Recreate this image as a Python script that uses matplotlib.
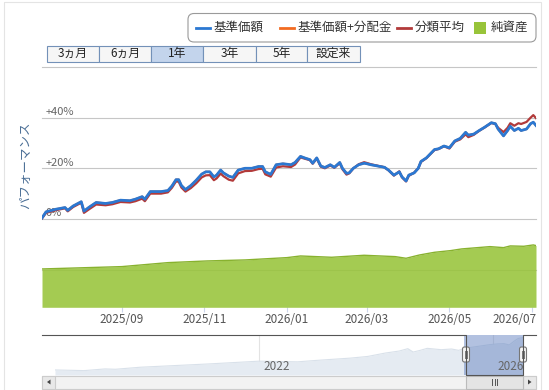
import matplotlib
matplotlib.use('Agg')
import matplotlib.pyplot as plt
import matplotlib.dates as mdates
import matplotlib.transforms as mtransforms
from matplotlib.patches import FancyBboxPatch, Rectangle, Polygon
import pandas as pd

plt.rcParams['font.family'] = ['Noto Sans CJK JP', 'DejaVu Sans']

# ---------------- data ----------------
perf_dates = [
    '2025-07-04', '2025-07-07', '2025-07-14', '2025-07-21', '2025-07-23', '2025-07-27',
    '2025-08-02', '2025-08-04', '2025-08-08', '2025-08-13', '2025-08-20', '2025-08-25',
    '2025-08-31', '2025-09-07', '2025-09-11', '2025-09-16', '2025-09-18', '2025-09-22',
    '2025-09-30', '2025-10-05', '2025-10-08', '2025-10-11', '2025-10-13', '2025-10-15',
    '2025-10-18', '2025-10-22', '2025-10-26', '2025-10-30', '2025-11-02', '2025-11-05',
    '2025-11-08', '2025-11-10', '2025-11-13', '2025-11-15', '2025-11-19', '2025-11-22',
    '2025-11-26', '2025-12-01', '2025-12-06', '2025-12-11', '2025-12-14', '2025-12-16',
    '2025-12-20', '2025-12-24', '2025-12-29', '2026-01-04', '2026-01-07', '2026-01-11',
    '2026-01-14', '2026-01-18', '2026-01-20', '2026-01-23', '2026-01-26', '2026-01-29',
    '2026-02-02', '2026-02-05', '2026-02-09', '2026-02-11', '2026-02-14', '2026-02-16',
    '2026-02-19', '2026-02-23', '2026-02-27', '2026-03-01', '2026-03-04', '2026-03-09',
    '2026-03-14', '2026-03-17', '2026-03-21', '2026-03-25', '2026-03-27', '2026-03-30',
    '2026-04-01', '2026-04-05', '2026-04-08', '2026-04-10', '2026-04-14', '2026-04-20',
    '2026-04-23', '2026-04-27', '2026-05-01', '2026-05-05', '2026-05-09', '2026-05-13',
    '2026-05-15', '2026-05-19', '2026-05-23', '2026-05-27', '2026-06-01', '2026-06-04',
    '2026-06-06', '2026-06-10', '2026-06-13', '2026-06-15', '2026-06-18', '2026-06-21',
    '2026-06-23', '2026-06-27', '2026-06-30', '2026-07-02', '2026-07-04',
]

nav_perf = [  # 基準価額 (%)
    0.4, 2.8, 3.8, 4.5, 3.4, 5.1,
    6.8, 3.1, 4.7, 6.5, 6.1, 6.5,
    7.4, 7.2, 7.8, 8.8, 7.8, 10.8,
    10.8, 11.2, 13.0, 15.5, 15.5, 13.2,
    11.6, 13.2, 15.3, 17.7, 18.6, 18.6,
    16.6, 17.3, 19.3, 18.2, 16.9, 16.4,
    19.3, 20.0, 20.0, 20.7, 20.7, 18.6,
    17.6, 21.4, 21.8, 21.4, 22.3, 24.7,
    24.1, 23.4, 22.0, 24.1, 20.9, 20.3,
    21.4, 20.4, 22.3, 20.0, 18.0, 18.2,
    20.0, 21.4, 22.0, 21.8, 21.4, 20.9,
    20.4, 19.3, 17.3, 18.6, 16.6, 15.0,
    17.3, 18.2, 20.0, 22.7, 24.1, 27.4,
    27.7, 28.8, 28.1, 30.8, 31.8, 34.2,
    33.1, 33.5, 34.9, 36.2, 38.0, 37.6,
    35.5, 32.8, 34.9, 36.6, 34.9, 35.8,
    34.9, 35.5, 37.6, 38.2, 36.9,
]

nav_dist_perf = [  # 基準価額+分配金 (%) – no distributions, same as 基準価額
    0.4, 2.8, 3.8, 4.5, 3.4, 5.1,
    6.8, 3.1, 4.7, 6.5, 6.1, 6.5,
    7.4, 7.2, 7.8, 8.8, 7.8, 10.8,
    10.8, 11.2, 13.0, 15.5, 15.5, 13.2,
    11.6, 13.2, 15.3, 17.7, 18.6, 18.6,
    16.6, 17.3, 19.3, 18.2, 16.9, 16.4,
    19.3, 20.0, 20.0, 20.7, 20.7, 18.6,
    17.6, 21.4, 21.8, 21.4, 22.3, 24.7,
    24.1, 23.4, 22.0, 24.1, 20.9, 20.3,
    21.4, 20.4, 22.3, 20.0, 18.0, 18.2,
    20.0, 21.4, 22.0, 21.8, 21.4, 20.9,
    20.4, 19.3, 17.3, 18.6, 16.6, 15.0,
    17.3, 18.2, 20.0, 22.7, 24.1, 27.4,
    27.7, 28.8, 28.1, 30.8, 31.8, 34.2,
    33.1, 33.5, 34.9, 36.2, 38.0, 37.6,
    35.5, 32.8, 34.9, 36.6, 34.9, 35.8,
    34.9, 35.5, 37.6, 38.2, 36.9,
]

category_avg = [  # 分類平均 (%)
    0.2, 2.4, 3.4, 4.2, 3.0, 4.7,
    6.4, 2.4, 3.9, 5.7, 5.4, 5.8,
    6.7, 6.5, 7.0, 8.0, 7.0, 10.0,
    10.0, 10.5, 12.3, 14.8, 14.7, 12.4,
    10.8, 12.2, 14.1, 16.4, 17.2, 17.3,
    15.3, 16.0, 17.9, 16.9, 15.5, 15.1,
    18.0, 18.9, 19.0, 19.7, 19.8, 17.6,
    16.7, 20.3, 20.8, 20.5, 21.5, 24.3,
    23.8, 23.2, 21.8, 23.8, 20.6, 20.0,
    21.1, 20.2, 22.0, 19.6, 17.5, 18.0,
    19.9, 21.6, 22.4, 22.1, 21.6, 21.0,
    20.4, 19.2, 17.1, 18.8, 16.4, 14.8,
    17.0, 18.3, 20.0, 22.5, 24.0, 27.2,
    27.6, 28.7, 27.8, 30.5, 31.4, 33.4,
    32.3, 33.2, 34.8, 36.1, 37.9, 37.5,
    36.0, 34.3, 36.0, 37.8, 36.8, 37.8,
    37.5, 38.3, 40.0, 41.0, 39.8,
]

asset_dates = [
    '2025-07-04', '2025-09-01', '2025-10-05', '2025-11-03', '2025-12-01', '2026-01-01',
    '2026-01-11', '2026-02-03', '2026-02-27', '2026-03-22', '2026-03-30', '2026-04-09',
    '2026-04-20', '2026-05-02', '2026-05-10', '2026-05-31', '2026-06-10', '2026-06-15',
    '2026-06-25', '2026-07-02', '2026-07-04',
]
net_assets = [  # 純資産 (億円)
    99.4, 105.5, 115.8, 120.2, 122.8, 128.8,
    133.1, 129.7, 134.9, 131.4, 127.1, 135.7,
    142.6, 147.0, 151.3, 157.3, 154.7, 159.1,
    158.2, 161.7, 160.0,
]

navigator_dates = [
    '2018-07-08', '2019-01-05', '2019-05-16', '2019-07-20', '2019-12-21', '2020-07-26',
    '2021-03-01', '2022-01-01', '2022-08-29', '2022-12-16', '2023-07-23', '2023-11-09',
    '2024-02-26', '2024-05-23', '2024-07-16', '2024-08-18', '2024-10-01', '2024-11-14',
    '2025-02-09', '2025-04-15', '2025-05-29', '2025-07-04', '2025-09-14', '2025-12-10',
    '2026-01-23', '2026-03-07', '2026-04-09', '2026-05-12', '2026-06-03', '2026-07-04',
]
navigator_values = [  # 基準価額 (円)
    10000, 8667, 12000, 11333, 15333, 18667,
    22000, 27333, 26000, 28667, 33333, 36667,
    43333, 47333, 52000, 45333, 48667, 52667,
    50000, 51333, 48667, 52667, 56000, 60000,
    61333, 62000, 59333, 67333, 72000, 74000,
]

range_buttons = ['3ヵ月', '6ヵ月', '1年', '3年', '5年', '設定来']
selected_button = '1年'
x_tick_dates = ['2025-09-01', '2025-11-01', '2026-01-01', '2026-03-01', '2026-05-01', '2026-07-01']
y_ticks = [0, 20, 40]
y_tick_labels = ['0%', '+20%', '+40%']
nav_years = ['2022-01-01', '2026-01-01']
nav_year_labels = ['2022', '2026']
legend_labels = ['基準価額', '基準価額+分配金', '分類平均', '純資産']

# ---------------- styles ----------------
BLUE = '#2b78d2'
ORANGE = '#f26b21'
RED = '#b23a3a'
GREEN = '#98c43a'
GREEN_EDGE = '#88b22f'

W, H = 549, 390
fig = plt.figure(figsize=(W / 100, H / 100), dpi=100)


def rect(l, t, r, b):
    return [l / W, 1 - b / H, (r - l) / W, (b - t) / H]


pd_dates = pd.to_datetime(perf_dates)
start, end = pd.Timestamp('2025-07-04'), pd.Timestamp('2026-07-04')

# ---- main performance axes ----
ax = fig.add_axes(rect(42, 67, 536, 307.3))
ax.set_xlim(start, end)
ax.set_ylim(-34.9, 60)
for s in ax.spines.values():
    s.set_visible(False)
for v in [-20, 0, 20, 40, 60]:
    ax.axhline(v, color='#c6c6c6', lw=0.8, zorder=0, clip_on=False)

ax.plot(pd_dates, nav_dist_perf, color=ORANGE, lw=1.6, zorder=3)
ax.plot(pd_dates, category_avg, color=RED, lw=1.6, zorder=4)
ax.plot(pd_dates, nav_perf, color=BLUE, lw=2.0, zorder=5)

ax.set_yticks([])
trans = mtransforms.blended_transform_factory(ax.transAxes, ax.transData)
for v, lab in zip(y_ticks, y_tick_labels):
    ax.annotate(lab, xy=(0, v), xycoords=trans, xytext=(2.5, 4), textcoords='offset points',
                ha='left', va='center', fontsize=8, color='#666666', zorder=2)

ax.set_xticks(pd.to_datetime(x_tick_dates))
ax.xaxis.set_major_formatter(mdates.DateFormatter('%Y/%m'))
ax.tick_params(axis='x', length=3.5, width=0.8, color='#ccd6eb', pad=0.5, labelsize=8.5,
               labelcolor='#555555')
last = ax.get_xticklabels()[-1]
last.set_ha('right')
last.set_transform(last.get_transform() + mtransforms.ScaledTranslation(5 / 100, 0, fig.dpi_scale_trans))

# ---- net assets on twin axis ----
ax2 = ax.twinx()
ax2.set_ylim(0, 623)
for s in ax2.spines.values():
    s.set_visible(False)
ax2.set_yticks([])
ad = pd.to_datetime(asset_dates)
ax2.fill_between(ad, net_assets, 0, color=GREEN, alpha=0.88, lw=0, zorder=1)
ax2.plot(ad, net_assets, color=GREEN_EDGE, lw=1.0, zorder=2)
ax2.set_xlim(start, end)

# ---- navigator ----
nax = fig.add_axes(rect(55, 334.5, 523, 375))
nd = pd.to_datetime(navigator_dates)
nax.set_xlim(nd[0], nd[-1])
nax.set_ylim(0, 80000)
nax.axis('off')
for d in nav_years:
    nax.axvline(pd.Timestamp(d), color='#e3e3e3', lw=0.8, zorder=0)
nax.fill_between(nd, navigator_values, 0, color='#e5ebf2', lw=0, zorder=1)
nax.plot(nd, navigator_values, color='#d9e1ea', lw=0.8, zorder=2)
nax.axvspan(start, end, color='#6685c2', alpha=0.5, lw=0, zorder=3)
ntrans = mtransforms.blended_transform_factory(nax.transData, nax.transAxes)
for d, lab in zip(nav_years, nav_year_labels):
    nax.annotate(lab, xy=(mdates.date2num(pd.Timestamp(d)), 0.22), xycoords=ntrans,
                 xytext=(3, 0), textcoords='offset points', ha='left', va='center',
                 fontsize=8.5, color='#666666', zorder=4)

# ---- overlay for chart chrome ----
ov = fig.add_axes([0, 0, 1, 1], zorder=20)
ov.set_xlim(0, W)
ov.set_ylim(H, 0)
ov.axis('off')
ov.patch.set_visible(False)

# outer border
ov.add_patch(Rectangle((3.5, 1.5), 537.5, 395, fill=False, ec='#e4e4e4', lw=0.8))

# legend box
ov.add_patch(FancyBboxPatch((188, 13.5), 348, 28.5, boxstyle='round,pad=0,rounding_size=6',
                            fc='white', ec='#9a9a9a', lw=0.8))
items = [(196, BLUE, legend_labels[0]), (280, ORANGE, legend_labels[1]),
         (397, RED, legend_labels[2])]
for x0, c, lab in items:
    ov.plot([x0, x0 + 14], [27.5, 27.5], color=c, lw=2)
    ov.text(x0 + 18, 27.5, lab, ha='left', va='center', fontsize=9, color='#333333')
ov.add_patch(Rectangle((474, 21.5), 12, 12, fc=GREEN, ec='none'))
ov.text(491, 27.5, legend_labels[3], ha='left', va='center', fontsize=9, color='#333333')

# range selector buttons
edges = [47, 99, 151, 203, 256, 307, 360]
for i, lab in enumerate(range_buttons):
    fc = '#c3d4ec' if lab == selected_button else '#f6f6f6'
    ov.add_patch(Rectangle((edges[i], 45.7), edges[i + 1] - edges[i], 16, fc=fc,
                           ec='#7391b8', lw=0.8))
    ov.text((edges[i] + edges[i + 1]) / 2, 53.7, lab, ha='center', va='center',
            fontsize=8.5, color='#222222')

# y-axis title
ov.text(26, 165, 'パフォーマンス', rotation=90, ha='center', va='center', fontsize=9,
        color='#4b6f96')

# navigator outline
ov.plot([42, 466, 466, 523, 523, 536], [334.5, 334.5, 375, 375, 334.5, 334.5],
        color='#555555', lw=0.8)
# handles
for hx in [466, 523]:
    ov.add_patch(FancyBboxPatch((hx - 3.5, 347), 7, 15, boxstyle='round,pad=0,rounding_size=2',
                                fc='#f4f4f4', ec='#777777', lw=0.8))
    ov.plot([hx - 1, hx - 1], [351, 358], color='#777777', lw=0.7)
    ov.plot([hx + 1, hx + 1], [351, 358], color='#777777', lw=0.7)

# scrollbar
ov.add_patch(Rectangle((42, 375.5), 494, 13, fc='#f2f2f2', ec='#cccccc', lw=0.8))
ov.add_patch(Rectangle((42, 375.5), 13, 13, fc='#e8e8e8', ec='#cccccc', lw=0.8))
ov.add_patch(Rectangle((523, 375.5), 13, 13, fc='#e8e8e8', ec='#cccccc', lw=0.8))
ov.add_patch(Polygon([[50.5, 379.5], [50.5, 384.5], [47, 382]], closed=True, fc='#444444', ec='none'))
ov.add_patch(Polygon([[528, 379.5], [528, 384.5], [531.5, 382]], closed=True, fc='#444444', ec='none'))
ov.add_patch(Rectangle((466, 375.5), 57, 13, fc='#e4e4e4', ec='#bbbbbb', lw=0.8))
for lx in [492, 494.5, 497]:
    ov.plot([lx, lx], [379, 385], color='#555555', lw=0.7)

fig.savefig('out.png', dpi=100)
